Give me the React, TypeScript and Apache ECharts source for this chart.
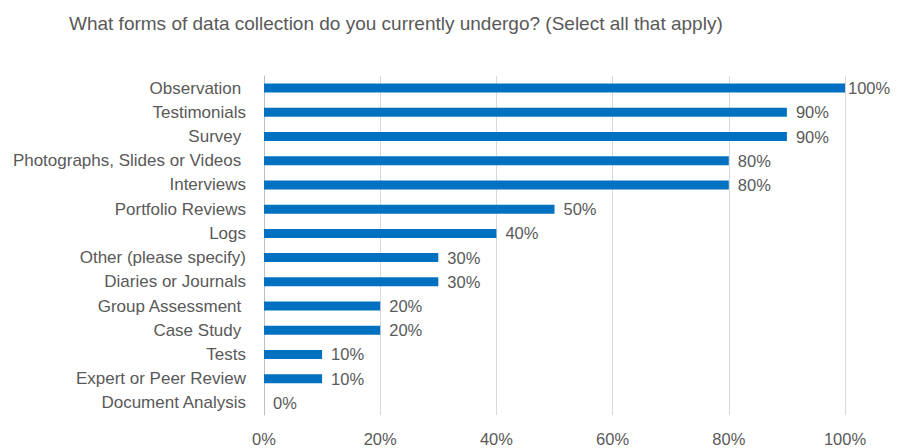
import React, { useEffect, useRef } from "react";
import * as echarts from "echarts";

const categories = [
  "Observation ",
  "Testimonials",
  "Survey ",
  "Photographs, Slides or Videos ",
  "Interviews",
  "Portfolio Reviews",
  "Logs",
  "Other (please specify)",
  "Diaries or Journals",
  "Group Assessment ",
  "Case Study ",
  "Tests",
  "Expert or Peer Review",
  "Document Analysis",
];
const values = [100, 90, 90, 80, 80, 50, 40, 30, 30, 20, 20, 10, 10, 0];
const title = "What forms of data collection do you currently undergo? (Select all that apply)";

const FONT = "'Liberation Sans', Arial, sans-serif";
const TEXT = "#595959";

export default function App() {
  const ref = useRef<HTMLDivElement>(null);
  useEffect(() => {
    if (!ref.current) return;
    const chart = echarts.init(ref.current, null, { renderer: "svg" });
    chart.setOption({
      animation: false,
      textStyle: { fontFamily: FONT },
      title: {
        text: title,
        left: 64,
        top: 9,
        textStyle: { fontFamily: FONT, fontSize: 19, fontWeight: "normal", color: TEXT },
      },
      grid: { left: 264, right: 62, top: 76, bottom: 33, containLabel: false },
      xAxis: {
        type: "value",
        min: 0,
        max: 100,
        interval: 20,
        axisLabel: {
          formatter: (v: number) => v + "%",
          fontFamily: FONT,
          fontSize: 16.5,
          color: TEXT,
          margin: 15,
        },
        axisLine: { show: false },
        axisTick: { show: false },
        splitLine: { lineStyle: { color: "#d9d9d9", width: 1 } },
      },
      yAxis: {
        type: "category",
        data: categories,
        inverse: true,
        axisLabel: { fontFamily: FONT, fontSize: 17, color: TEXT, margin: 18 },
        axisLine: { show: true, lineStyle: { color: "#bfbfbf", width: 1 } },
        axisTick: { show: false },
      },
      series: [
        {
          type: "bar",
          data: values.map((v, i) =>
            i === 0 ? { value: v, label: { distance: 3 } } : v
          ),
          barWidth: 9,
          itemStyle: { color: "#0070C0" },
          label: {
            show: true,
            position: "right",
            distance: 9,
            formatter: (p: any) => p.value + "%",
            fontFamily: FONT,
            fontSize: 16.5,
            color: TEXT,
          },
        },
      ],
    });
    return () => chart.dispose();
  }, []);
  return <div ref={ref} style={{ width: 907, height: 448, position: "absolute", left: 0, top: 0 }} />;
}
